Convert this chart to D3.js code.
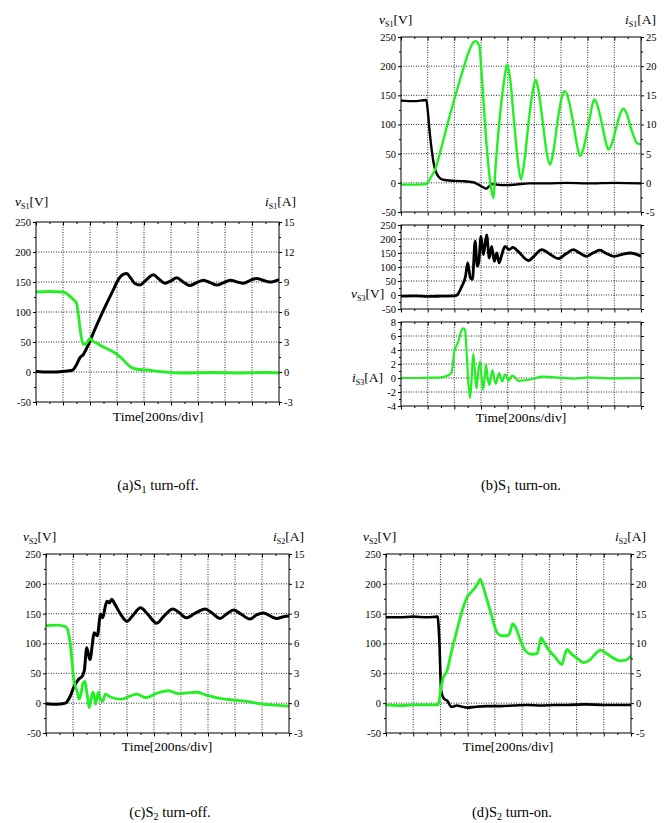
<!DOCTYPE html>
<html>
<head>
<meta charset="utf-8">
<script src="https://cdn.jsdelivr.net/npm/d3@7"></script>
<style>
  body { margin: 0; background: #fff; }
  svg text { font-family: "Liberation Serif", "DejaVu Serif", "Times New Roman", serif; fill: #000; }
  .grid { stroke: #111; stroke-width: 0.9; stroke-dasharray: 1 1.5; }
</style>
</head>
<body>
<svg id="fig" width="668" height="823" font-family="Liberation Serif, DejaVu Serif, serif"></svg>
<script>
// Tick values (time axis in divisions, 200 ns each)
const timeTicks = [0, 1, 2, 3, 4, 5, 6, 7, 8, 9];
const voltTicks = [-50, 0, 50, 100, 150, 200, 250];
const currTicks15 = [-3, 0, 3, 6, 9, 12, 15];
const currTicks25 = [-5, 0, 5, 10, 15, 20, 25];
const iS3Ticks = [-4, -2, 0, 2, 4, 6, 8];

// (a) S1 turn-off : [time div, value]
const vS1Off = [[0,1],[0.5,0],[1,1],[1.35,3],[1.5,12],[1.63,24],[1.75,29],[1.9,42],[2.2,73],[2.5,103],[2.8,131],
  [3.11,158],[3.25,163],[3.36,164],[3.5,157],[3.65,148],[3.85,145],[4.05,152],[4.35,162],[4.55,155],[4.78,148],
  [5.0,152],[5.21,157],[5.45,150],[5.7,144],[5.95,149],[6.2,153],[6.45,149],[6.7,145],[6.95,149],[7.2,153],
  [7.45,150],[7.68,148],[7.9,152],[8.17,156],[8.4,153],[8.67,150],[9,154]];
const iS1Off = [[0,8.0],[0.5,8.05],[1,8.0],[1.2,7.7],[1.4,7.2],[1.5,6.9],[1.58,5.5],[1.66,3.8],[1.74,2.8],[1.82,2.75],
  [1.9,3.0],[2.0,3.35],[2.1,3.1],[2.3,2.8],[2.5,2.5],[2.8,2.1],[3.0,1.75],[3.2,1.3],[3.36,0.85],[3.5,0.5],[3.7,0.3],
  [4.1,0.2],[4.7,0.02],[5.5,-0.1],[6.5,-0.05],[7.5,-0.1],[8.5,-0.05],[9,-0.1]];

// (b) S1 turn-on
const vS1On = [[0,141],[0.5,140],[0.95,142],[1.0,125],[1.08,85],[1.15,57],[1.22,35],[1.3,20],[1.4,11],[1.53,6],
  [1.8,4],[2.28,3],[2.7,1],[2.9,-3],[3.1,-8],[3.2,-10],[3.3,-6],[3.45,-2],[3.6,-3],[3.9,-4],[4.3,-3],[4.8,-1],
  [5.5,-1],[6.2,0],[7,-1],[8,0],[9,-1]];
const iS1On = [[0,-0.3],[0.5,-0.3],[0.95,-0.2],[1.1,0.8],[1.28,2.3],[1.5,5.8],[1.75,10.2],[2.03,14.8],[2.3,19],
  [2.53,22.3],[2.7,24],[2.8,24.3],[2.93,23.6],[3.05,17],[3.2,7],[3.35,0],[3.46,-2.6],[3.55,3],[3.7,11],[3.85,17],
  [3.99,20.3],[4.1,17.5],[4.25,10],[4.4,3],[4.5,0.6],[4.62,3.5],[4.8,11],[4.95,16],[5.05,17.7],[5.15,16],[5.3,11],
  [5.47,5],[5.59,3.1],[5.72,5.5],[5.9,11.5],[6.05,15],[6.15,15.7],[6.27,14.5],[6.45,10.5],[6.6,6.5],[6.71,4.6],
  [6.85,6],[7.05,10.5],[7.2,13.8],[7.25,14.3],[7.35,13.5],[7.55,9.8],[7.7,6.6],[7.78,5.7],[7.9,6.6],[8.1,10],
  [8.3,12.6],[8.34,12.7],[8.45,12],[8.65,9],[8.85,6.8],[9,6.6]];
const vS3On = [[0,-4],[0.5,-3],[1,-5],[1.5,-4],[2.0,-3],[2.1,0],[2.28,31],[2.42,67],[2.5,115],[2.55,90],[2.6,61],
  [2.68,56],[2.78,192],[2.86,103],[2.92,120],[3.0,209],[3.09,144],[3.21,215],[3.31,132],[3.4,174],[3.5,120],
  [3.59,150],[3.68,115],[3.78,144],[3.9,174],[4.05,162],[4.2,170],[4.4,155],[4.78,123],[5.0,140],[5.28,162],
  [5.6,145],[5.9,130],[6.2,148],[6.46,162],[6.7,150],[6.96,138],[7.2,150],[7.46,160],[7.7,148],[8.0,138],
  [8.3,145],[8.6,150],[9,138]];
const iS3On = [[0,0],[0.5,0],[1,0.05],[1.5,0.1],[1.78,0.4],[1.9,0.8],[2.0,3.8],[2.15,5.2],[2.25,6.6],[2.34,7.1],
  [2.4,6.9],[2.47,3],[2.53,-1],[2.59,-2.9],[2.65,0],[2.71,3.5],[2.77,1],[2.83,-1.5],[2.9,1],[2.96,2.3],[3.02,0.3],
  [3.08,-1.7],[3.15,0.5],[3.19,1.9],[3.25,0],[3.32,-1],[3.38,0.3],[3.43,1.1],[3.5,-0.2],[3.56,-0.8],[3.63,0.2],
  [3.68,0.7],[3.76,-0.2],[3.8,-0.5],[3.88,0.4],[3.93,0.5],[4.0,-0.2],[4.05,-0.4],[4.12,0.2],[4.2,0.3],[4.4,-0.4],
  [4.8,-0.25],[5.3,0.2],[5.8,0.1],[6.5,-0.1],[7,0.1],[8,-0.05],[9,0]];

// (c) S2 turn-off
const vS2Off = [[0,-1],[0.4,-2],[0.72,0],[0.9,12],[1.02,26],[1.21,40],[1.35,46],[1.42,55],[1.51,93],[1.58,80],
  [1.63,73],[1.72,100],[1.78,118],[1.9,113],[2.02,149],[2.1,143],[2.2,163],[2.26,171],[2.35,168],[2.43,174],
  [2.55,166],[2.75,150],[3.0,137],[3.2,146],[3.5,160],[3.75,150],[4.1,134],[4.35,145],[4.7,158],[4.95,151],
  [5.2,143],[5.5,150],[5.9,158],[6.15,151],[6.45,142],[6.7,150],[6.95,156],[7.2,150],[7.55,141],[7.8,148],
  [8.05,151],[8.35,145],[8.55,142],[8.8,145],[9,146]];
const iS2Off = [[0,7.8],[0.4,7.85],[0.72,7.7],[0.8,7.4],[0.9,5.9],[0.96,4.3],[1.02,2.6],[1.1,1.6],[1.15,1.2],
  [1.23,0.4],[1.3,1.0],[1.37,2.0],[1.44,2.2],[1.5,1.3],[1.55,0.4],[1.6,-0.45],[1.67,0.4],[1.74,1.1],[1.8,0.5],
  [1.84,-0.1],[1.9,0.7],[1.95,1.1],[2.0,0.5],[2.1,0.2],[2.2,0.9],[2.4,0.6],[2.8,0.4],[3.1,0.7],[3.37,0.9],
  [3.7,0.55],[4.1,1.0],[4.54,1.25],[4.9,0.95],[5.3,1.05],[5.59,1.1],[6.0,0.75],[6.5,0.45],[7.0,0.3],[7.5,0.15],
  [8.0,-0.1],[8.5,-0.2],[9,-0.3]];

// (d) S2 turn-on
const vS2On = [[0,144],[0.5,144],[1,145],[1.5,144],[1.9,145],[1.93,130],[1.97,93],[2.0,45],[2.03,20],[2.12,8],
  [2.25,4],[2.41,-6],[2.6,-4],[2.8,-6],[3.0,-7.5],[3.3,-6],[3.7,-5],[4.2,-5],[4.7,-4],[5.2,-3],[5.7,-4],[6.2,-3],
  [6.7,-3],[7.3,-2],[8,-3],[9,-3]];
const iS2On = [[0,-0.3],[0.5,-0.4],[1,-0.3],[1.5,-0.3],[1.9,-0.3],[1.95,0.3],[2.02,2.6],[2.1,4.2],[2.24,5.4],
  [2.4,8.5],[2.6,12.1],[2.8,15.5],[2.97,17.7],[3.15,18.7],[3.28,19.4],[3.4,20.3],[3.46,20.8],[3.55,19.8],
  [3.7,17.5],[3.83,15.5],[3.95,13.5],[4.08,11.8],[4.25,11.3],[4.44,11.3],[4.55,11.8],[4.65,13.3],[4.75,12.8],
  [4.9,11.0],[5.05,9.3],[5.18,8.5],[5.35,8.2],[5.55,8.3],[5.62,9.5],[5.7,11.0],[5.8,10.2],[6.0,8.8],[6.2,7.8],
  [6.46,6.5],[6.55,7.8],[6.65,9.0],[6.8,8.3],[7.0,7.6],[7.26,6.8],[7.5,7.3],[7.7,8.3],[7.87,8.9],[8.05,8.5],
  [8.3,7.7],[8.6,7.1],[8.8,7.2],[9,7.9]];

const black = "#000";
const green = "#22f022";
const serif = "Liberation Serif, DejaVu Serif, Times New Roman, serif";

let svg = d3.select("#fig");
let clipId = 0;

// midpoints between major ticks, for minor ticks
function minors(ticks) {
  return d3.pairs(ticks).map(p => (p[0] + p[1]) / 2);
}

function styleAxis(g) {
  g.select(".domain").remove();
  g.attr("font-family", serif).attr("font-size", 10.5);
  g.selectAll("line").attr("stroke", "#000");
}

// draw one framed plot
function panel(o) {
  let x = d3.scaleLinear().domain([0, 9]).range([o.x0, o.x1]);
  let y = d3.scaleLinear().domain(o.yDom).range([o.y1, o.y0]);
  let yr = o.rDom ? d3.scaleLinear().domain(o.rDom).range([o.y1, o.y0]) : null;
  let g = svg.append("g");

  // dotted grid
  g.append("g").selectAll("line").data(timeTicks.slice(1, -1)).join("line")
    .attr("class", "grid")
    .attr("x1", d => x(d)).attr("x2", d => x(d))
    .attr("y1", o.y0).attr("y2", o.y1);
  g.append("g").selectAll("line").data(o.yTicks.slice(1, -1)).join("line")
    .attr("class", "grid")
    .attr("x1", o.x0).attr("x2", o.x1)
    .attr("y1", d => y(d)).attr("y2", d => y(d));

  // traces
  let id = "clip" + (clipId++);
  g.append("clipPath").attr("id", id).append("rect")
    .attr("x", o.x0).attr("y", o.y0).attr("width", o.x1 - o.x0).attr("height", o.y1 - o.y0);
  o.series.forEach(s => {
    let sc = s.right ? yr : y;
    let line = d3.line().x(d => x(d[0])).y(d => sc(d[1])).curve(d3.curveMonotoneX);
    g.append("path").datum(s.data)
      .attr("clip-path", `url(#${id})`)
      .attr("fill", "none")
      .attr("stroke", s.color)
      .attr("stroke-width", s.width)
      .attr("stroke-linejoin", "round")
      .attr("d", line);
  });

  // frame
  g.append("rect").attr("x", o.x0).attr("y", o.y0)
    .attr("width", o.x1 - o.x0).attr("height", o.y1 - o.y0)
    .attr("fill", "none").attr("stroke", "#000").attr("stroke-width", 1);

  // x ticks: bottom outward, top inward
  g.append("g").attr("transform", `translate(0,${o.y1})`)
    .call(d3.axisBottom(x).tickValues(timeTicks).tickSize(3.5).tickSizeOuter(0).tickFormat(""))
    .call(styleAxis);
  g.append("g").attr("transform", `translate(0,${o.y1})`)
    .call(d3.axisBottom(x).tickValues(minors(timeTicks)).tickSize(2).tickSizeOuter(0).tickFormat(""))
    .call(styleAxis);
  g.append("g").attr("transform", `translate(0,${o.y0})`)
    .call(d3.axisBottom(x).tickValues(timeTicks).tickSize(3.5).tickSizeOuter(0).tickFormat(""))
    .call(styleAxis);
  g.append("g").attr("transform", `translate(0,${o.y0})`)
    .call(d3.axisBottom(x).tickValues(minors(timeTicks)).tickSize(2).tickSizeOuter(0).tickFormat(""))
    .call(styleAxis);

  // left axis
  g.append("g").attr("transform", `translate(${o.x0},0)`)
    .call(d3.axisLeft(y).tickValues(o.yTicks).tickSize(3).tickPadding(2).tickSizeOuter(0).tickFormat(d => String(d)))
    .call(styleAxis);
  g.append("g").attr("transform", `translate(${o.x0},0)`)
    .call(d3.axisLeft(y).tickValues(minors(o.yTicks)).tickSize(2).tickSizeOuter(0).tickFormat(""))
    .call(styleAxis);

  // right axis
  if (yr) {
    g.append("g").attr("transform", `translate(${o.x1},0)`)
      .call(d3.axisRight(yr).tickValues(o.rTicks).tickSize(3).tickPadding(2).tickSizeOuter(0).tickFormat(d => String(d)))
      .call(styleAxis);
    g.append("g").attr("transform", `translate(${o.x1},0)`)
      .call(d3.axisRight(yr).tickValues(minors(o.rTicks)).tickSize(2).tickSizeOuter(0).tickFormat(""))
      .call(styleAxis);
  } else {
    g.append("g").attr("transform", `translate(${o.x1},0)`)
      .call(d3.axisRight(y).tickValues(o.yTicks).tickSize(3).tickSizeOuter(0).tickFormat(""))
      .call(styleAxis);
  }
  return g;
}

// quantity label such as v_S1[V]
function qlabel(px, py, sym, sub, unit, anchor) {
  let t = svg.append("text").attr("x", px).attr("y", py)
    .attr("font-family", serif).attr("font-size", 13.5).attr("text-anchor", anchor || "start");
  t.append("tspan").attr("font-style", "italic").text(sym);
  t.append("tspan").attr("font-size", 8).attr("dy", 3).text(sub);
  t.append("tspan").attr("dy", -3).text(unit);
}

function timeLabel(px, py) {
  svg.append("text").attr("x", px).attr("y", py).attr("font-family", serif).attr("font-size", 13.5)
    .attr("text-anchor", "middle").text("Time[200ns/div]");
}

function caption(px, py, lead, sub, rest) {
  let t = svg.append("text").attr("x", px).attr("y", py).attr("font-family", serif).attr("font-size", 14.5)
    .attr("text-anchor", "middle");
  t.append("tspan").text(lead);
  t.append("tspan").attr("font-size", 10).attr("dy", 3).text(sub);
  t.append("tspan").attr("dy", -3).text(rest);
}

// (a)
panel({ x0: 36, x1: 279, y0: 222, y1: 402, yDom: [-50, 250], yTicks: voltTicks,
  rDom: [-3, 15], rTicks: currTicks15,
  series: [{ data: vS1Off, color: black, width: 3 }, { data: iS1Off, color: green, width: 2.8, right: true }] });
qlabel(15, 206, "v", "S1", "[V]");
qlabel(296, 206, "i", "S1", "[A]", "end");
timeLabel(158, 421);
caption(158, 490, "(a)S", "1", " turn-off.");

// (b)
panel({ x0: 401, x1: 641, y0: 37, y1: 212, yDom: [-50, 250], yTicks: voltTicks,
  rDom: [-5, 25], rTicks: currTicks25,
  series: [{ data: vS1On, color: black, width: 2.4 }, { data: iS1On, color: green, width: 2.4, right: true }] });
panel({ x0: 401, x1: 641, y0: 225, y1: 309, yDom: [-50, 250], yTicks: voltTicks,
  series: [{ data: vS3On, color: black, width: 2.8 }] });
panel({ x0: 401, x1: 641, y0: 322, y1: 406, yDom: [-4, 8], yTicks: iS3Ticks,
  series: [{ data: iS3On, color: green, width: 2.2 }] });
qlabel(379, 24, "v", "S1", "[V]");
qlabel(656, 24, "i", "S1", "[A]", "end");
qlabel(351, 298, "v", "S3", "[V]");
qlabel(352, 382, "i", "S3", "[A]");
timeLabel(521, 422);
caption(521, 490, "(b)S", "1", " turn-on.");

// (c)
panel({ x0: 46, x1: 289, y0: 554, y1: 733, yDom: [-50, 250], yTicks: voltTicks,
  rDom: [-3, 15], rTicks: currTicks15,
  series: [{ data: vS2Off, color: black, width: 3 }, { data: iS2Off, color: green, width: 2.8, right: true }] });
qlabel(23, 541, "v", "S2", "[V]");
qlabel(304, 541, "i", "S2", "[A]", "end");
timeLabel(167, 751);
caption(170, 817, "(c)S", "2", " turn-off.");

// (d)
panel({ x0: 386, x1: 631, y0: 554, y1: 733, yDom: [-50, 250], yTicks: voltTicks,
  rDom: [-5, 25], rTicks: currTicks25,
  series: [{ data: vS2On, color: black, width: 2.6 }, { data: iS2On, color: green, width: 2.8, right: true }] });
qlabel(363, 541, "v", "S2", "[V]");
qlabel(646, 541, "i", "S2", "[A]", "end");
timeLabel(508, 751);
caption(512, 817, "(d)S", "2", " turn-on.");
</script>
</body>
</html>
